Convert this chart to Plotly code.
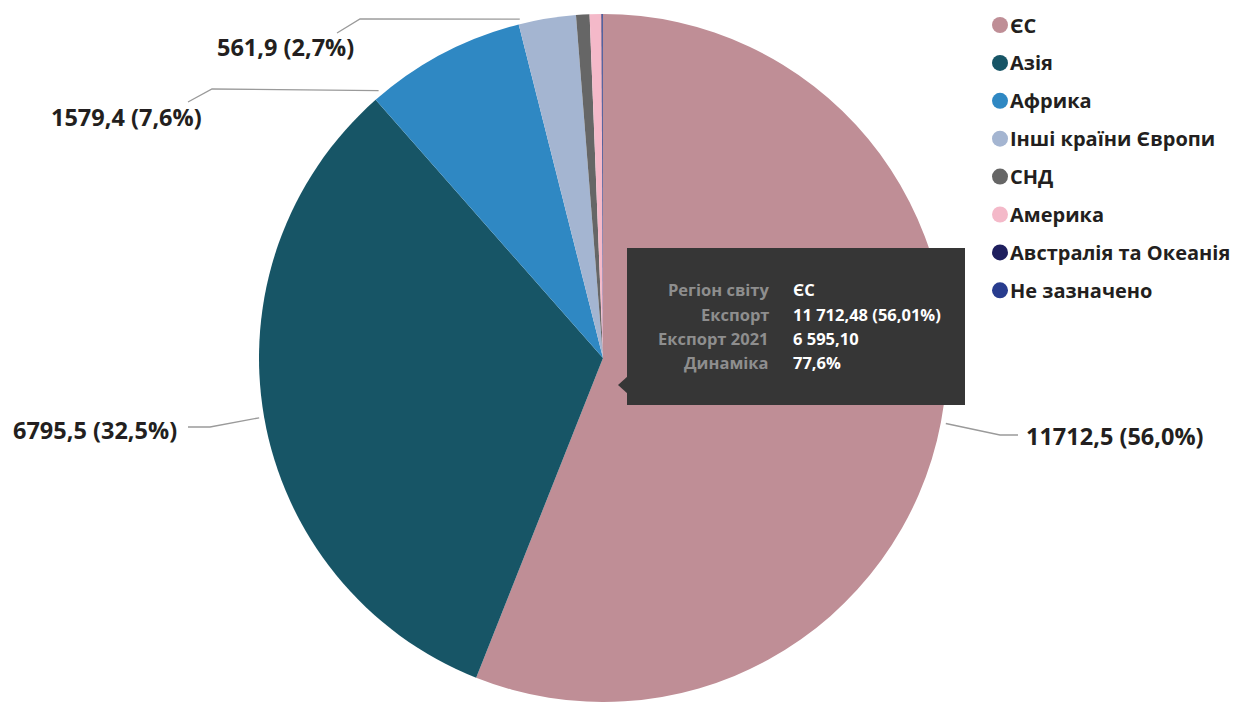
import math
import plotly.graph_objects as go

W, H = 1236, 702

# Export by world region, million USD
regions = ["ЄС", "Азія", "Африка", "Інші країни Європи", "СНД", "Америка",
           "Австралія та Океанія", "Не зазначено"]
export_value = [11712.48, 6795.5, 1579.4, 561.9, 132.0, 115.0, 8.0, 7.0]
slice_colors = ["#bf8e96", "#175566", "#2f88c3", "#a4b5d1", "#666666",
                "#f4b9c9", "#1e1f5e", "#283c8e"]

# Values shown in the hover box for the EU slice
eu_export_2021 = 6595.10

total = sum(export_value)
shares = [v / total for v in export_value]

# Pie geometry in page pixels
CX, CY, R = 603, 358, 344

FONT = "Open Sans"
TEXT_DARK = "#231f20"
LINE_GREY = "#9a9a9a"


def px(x):
    return x / W


def py(y):
    return 1 - y / H


def dec(v, nd=1):
    return f"{v:.{nd}f}".replace(".", ",")


def grouped(v, nd=2):
    return f"{v:,.{nd}f}".replace(",", " ").replace(".", ",")


fig = go.Figure()
fig.add_trace(go.Pie(
    labels=regions,
    values=export_value,
    sort=False,
    direction="clockwise",
    rotation=0,
    marker=dict(colors=slice_colors, line=dict(width=0)),
    textinfo="none",
    hovertemplate="<b>%{label}</b><br>%{value:,.2f} (%{percent})<extra></extra>",
    domain=dict(x=[px(CX - R), px(CX + R)], y=[py(CY + R), py(CY - R)]),
    showlegend=False,
))

shapes = []
annotations = []

# Outside labels with bent leader lines
label_layout = {
    0: dict(frac=0.5, elbow=(1000, 435), end=(1018, 435), tx=1024, ty=436, xanchor="left"),
    1: dict(frac=0.5, elbow=(210, 427), end=(188, 427), tx=179, ty=430, xanchor="right"),
    2: dict(frac=0.05, elbow=(212, 89), end=(188, 102), tx=204, ty=117, xanchor="right"),
    3: dict(frac=0.04, elbow=(360, 19), end=(337, 33), tx=356, ty=47, xanchor="right"),
}

start = 0.0
for i, share in enumerate(shares):
    if i in label_layout:
        cfg = label_layout[i]
        theta = math.radians(360 * (start + share * cfg["frac"]))
        ax = CX + (R + 5) * math.sin(theta)
        ay = CY - (R + 5) * math.cos(theta)
        (ex, ey), (fx, fy) = cfg["elbow"], cfg["end"]
        shapes.append(dict(
            type="path", xref="paper", yref="paper",
            path=f"M {px(ax)},{py(ay)} L {px(ex)},{py(ey)} L {px(fx)},{py(fy)}",
            line=dict(color=LINE_GREY, width=1.3),
        ))
        annotations.append(dict(
            x=px(cfg["tx"]), y=py(cfg["ty"]), xref="paper", yref="paper",
            text=f"<b>{dec(export_value[i])} ({dec(share * 100)}%)</b>",
            showarrow=False, xanchor=cfg["xanchor"], yanchor="middle",
            font=dict(family=FONT, size=23.5, color=TEXT_DARK),
        ))
    start += share

# Legend
LEG_X, LEG_Y0, LEG_STEP, DOT = 1000, 25, 37.9, 8
for i, (name, col) in enumerate(zip(regions, slice_colors)):
    y = LEG_Y0 + LEG_STEP * i
    shapes.append(dict(
        type="circle", xref="paper", yref="paper",
        x0=px(LEG_X - DOT), x1=px(LEG_X + DOT),
        y0=py(y + DOT), y1=py(y - DOT),
        fillcolor=col, line=dict(width=0),
    ))
    annotations.append(dict(
        x=px(LEG_X + 8), y=py(y), xref="paper", yref="paper",
        text=f"<b>{name}</b>", showarrow=False,
        xanchor="left", yanchor="middle",
        font=dict(family=FONT, size=20, color=TEXT_DARK),
    ))

# Hover box for the EU slice
BOX = dict(x0=627, x1=965, y0=248, y1=405)
BOX_FILL = "#363636"
shapes.append(dict(
    type="rect", xref="paper", yref="paper", layer="above",
    x0=px(BOX["x0"]), x1=px(BOX["x1"]), y0=py(BOX["y1"]), y1=py(BOX["y0"]),
    fillcolor=BOX_FILL, line=dict(width=0),
))
shapes.append(dict(
    type="path", xref="paper", yref="paper", layer="above",
    path=(f"M {px(628)},{py(376)} L {px(618)},{py(385)} "
          f"L {px(628)},{py(394)} Z"),
    fillcolor=BOX_FILL, line=dict(width=0),
))

eu_share = shares[0]
dynamics = export_value[0] / eu_export_2021 - 1
tooltip_rows = [
    ("Регіон світу", regions[0]),
    ("Експорт", f"{grouped(export_value[0])} ({dec(eu_share * 100, 2)}%)"),
    ("Експорт 2021", grouped(eu_export_2021)),
    ("Динаміка", f"{dec(dynamics * 100)}%"),
]
ROW_Y0, ROW_STEP = 290, 24.3
for k, (key, val) in enumerate(tooltip_rows):
    y = ROW_Y0 + ROW_STEP * k
    annotations.append(dict(
        x=px(771), y=py(y), xref="paper", yref="paper",
        text=f"<b>{key}</b>", showarrow=False,
        xanchor="right", yanchor="middle",
        font=dict(family=FONT, size=16.5, color="#8e8e8e"),
    ))
    annotations.append(dict(
        x=px(791), y=py(y), xref="paper", yref="paper",
        text=f"<b>{val}</b>", showarrow=False,
        xanchor="left", yanchor="middle",
        font=dict(family=FONT, size=16.5, color="#ffffff"),
    ))

fig.update_layout(
    width=W, height=H,
    margin=dict(l=0, r=0, t=0, b=0),
    paper_bgcolor="#ffffff",
    plot_bgcolor="#ffffff",
    shapes=shapes,
    annotations=annotations,
    showlegend=False,
    font=dict(family=FONT),
)

fig.write_html("out.html")
